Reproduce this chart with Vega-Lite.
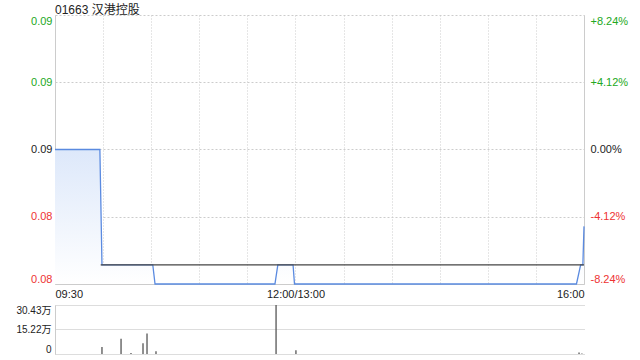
{
  "$schema": "https://vega.github.io/schema/vega-lite/v6.json",
  "padding": {"left": 15, "top": 4, "right": 10, "bottom": 5},
  "bounds": "flush",
  "spacing": 21,
  "background": "white",
  "title": {"text": "01663 汉港控股", "anchor": "start", "fontSize": 12, "fontWeight": "normal", "color": "#222", "offset": -2, "frame": "group"},
  "config": {
    "view": {"stroke": null},
    "font": "Liberation Sans, Noto Sans CJK SC",
    "title": {"font": "Liberation Sans, Noto Sans CJK SC"},
    "axis": {"labelFont": "Liberation Sans, Noto Sans CJK SC", "titleFont": "Liberation Sans"}
  },
  "datasets": {
    "price": [
      {"m": 0, "p": 0.085},
      {"m": 28, "p": 0.085},
      {"m": 29.3, "p": 0.079},
      {"m": 61, "p": 0.079},
      {"m": 62.4, "p": 0.078},
      {"m": 137.2, "p": 0.078},
      {"m": 139, "p": 0.079},
      {"m": 148.5, "p": 0.079},
      {"m": 149.4, "p": 0.078},
      {"m": 325.3, "p": 0.078},
      {"m": 327.9, "p": 0.079},
      {"m": 329.3, "p": 0.079},
      {"m": 330, "p": 0.081}
    ],
    "avg": [
      {"m": 28.5, "a": 0.079},
      {"m": 330, "a": 0.079}
    ],
    "vol": [
      {"m": 29.3, "v": 4.3},
      {"m": 41.2, "v": 9.5},
      {"m": 47.4, "v": 0.6},
      {"m": 54.9, "v": 6.6},
      {"m": 57.4, "v": 12.8},
      {"m": 63, "v": 1.7},
      {"m": 137.9, "v": 30.43},
      {"m": 150.3, "v": 2.3},
      {"m": 326.9, "v": 0.9},
      {"m": 328.7, "v": 0.3}
    ]
  },
  "vconcat": [
    {
      "width": 529,
      "height": 269,
      "layer": [
        {
          "layer": [
            {
              "data": {"name": "price"},
              "mark": {"type": "area", "color": {"x1": 0, "y1": 0, "x2": 0, "y2": 1, "gradient": "linear", "stops": [{"offset": 0, "color": "#dde8fa"}, {"offset": 1, "color": "#ffffff"}]}},
              "encoding": {
                "x": {"field": "m", "type": "quantitative", "scale": {"domain": [0, 330], "nice": false},
                  "axis": {"title": null, "values": [0, 30, 60, 90, 120, 150, 180, 210, 240, 270, 300, 330],
                    "labelExpr": "datum.value == 0 ? '09:30' : datum.value == 150 ? '12:00/13:00' : datum.value == 330 ? '16:00' : ''",
                    "labelFlush": true, "labelOverlap": false, "ticks": false, "grid": true, "gridDash": [1, 2], "gridColor": "#cccccc",
                    "domain": true, "domainColor": "#cccccc", "labelFontSize": 11, "labelColor": "#222", "labelPadding": 4}},
                "y": {"field": "p", "type": "quantitative", "scale": {"domain": [0.078, 0.092], "zero": false, "nice": false},
                  "axis": {"title": null, "values": [0.078, 0.0815, 0.085, 0.0885, 0.092], "format": ".2f",
                    "labelColor": {"expr": "datum.value > 0.0851 ? '#22a822' : datum.value < 0.0849 ? '#ee3333' : '#222'"},
                    "labelFlush": true, "ticks": false, "grid": true, "gridDash": [2, 2], "gridColor": "#cccccc",
                    "domain": true, "domainColor": "#cccccc", "labelFontSize": 11, "labelPadding": 3}},
                "y2": {"datum": 0.078}
              }
            },
            {
              "data": {"name": "price"},
              "mark": {"type": "line", "color": "#5a8ae0", "strokeWidth": 1.3},
              "encoding": {
                "x": {"field": "m", "type": "quantitative"},
                "y": {"field": "p", "type": "quantitative"}
              }
            },
            {
              "data": {"name": "avg"},
              "mark": {"type": "line", "color": "#444444", "strokeWidth": 1.2},
              "encoding": {
                "x": {"field": "m", "type": "quantitative"},
                "y": {"field": "a", "type": "quantitative"}
              }
            },
            {
              "mark": {"type": "text", "align": "right", "baseline": "bottom", "dy": -3, "fontSize": 11, "color": "#222"},
              "encoding": {
                "x": {"datum": 330, "type": "quantitative"},
                "y": {"datum": 0.092, "type": "quantitative"},
                "text": {"value": "06-24 16:08"}
              }
            },
            {
              "mark": {"type": "text", "align": "right", "baseline": "bottom", "dy": -1, "fontSize": 12, "color": "#cccccc"},
              "encoding": {
                "x": {"datum": 323, "type": "quantitative"},
                "y": {"datum": 0.078, "type": "quantitative"},
                "text": {"value": "sina.com"}
              }
            }
          ]
        },
        {
          "mark": {"type": "rule", "opacity": 0},
          "encoding": {
            "y": {"datum": 0, "type": "quantitative", "scale": {"domain": [-8.24, 8.24], "nice": false, "zero": false},
              "axis": {"orient": "right", "title": null, "values": [-8.24, -4.12, 0, 4.12, 8.24],
                "labelExpr": "(datum.value > 0 ? '+' : datum.value < 0 ? '-' : '') + format(abs(datum.value), '.2f') + '%'",
                "labelColor": {"expr": "datum.value > 0.01 ? '#22a822' : datum.value < -0.01 ? '#ee3333' : '#222'"},
                "labelFlush": true, "ticks": false, "grid": false, "domain": true, "domainColor": "#cccccc",
                "labelFontSize": 11, "labelPadding": 6}}
          }
        }
      ],
      "resolve": {"scale": {"y": "independent"}}
    },
    {
      "width": 529,
      "height": 49,
      "layer": [
        {
          "data": {"name": "vol"},
          "mark": {"type": "rule", "color": "#555555", "strokeWidth": 1.3},
          "encoding": {
            "x": {"field": "m", "type": "quantitative", "scale": {"domain": [0, 330], "nice": false}, "axis": null},
            "y": {"field": "v", "type": "quantitative", "scale": {"domain": [0, 30.43], "nice": false},
              "axis": {"title": null, "values": [0, 15.22, 30.43],
                "labelExpr": "datum.value == 0 ? '0' : format(datum.value, '.2f') + '万'",
                "labelFlush": true, "ticks": false, "grid": true, "gridDash": [1, 1], "gridColor": "#bbbbbb",
                "domain": true, "domainColor": "#cccccc", "labelFontSize": 10, "labelColor": "#222", "labelPadding": 4}},
            "y2": {"datum": 0}
          }
        },
        {
          "mark": {"type": "rule", "color": "#cccccc"},
          "encoding": {"x": {"datum": 330, "type": "quantitative"}}
        }
      ]
    }
  ]
}
